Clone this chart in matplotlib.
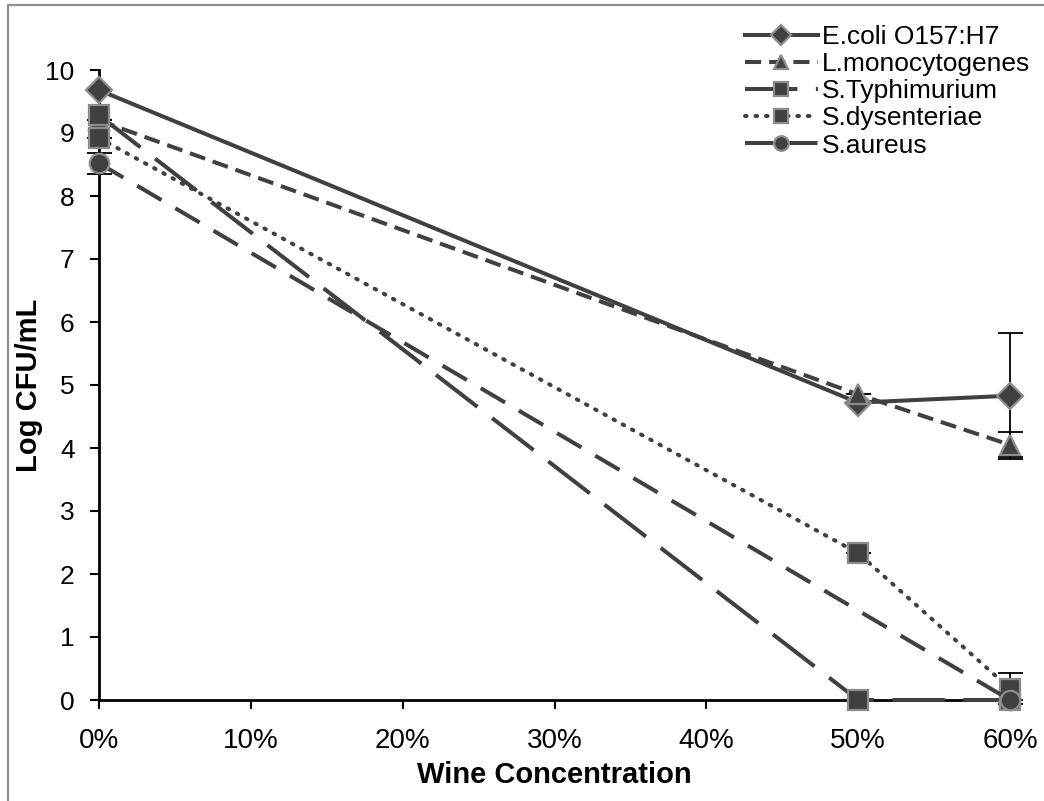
import matplotlib
matplotlib.use("Agg")
import matplotlib.pyplot as plt
from matplotlib.lines import Line2D

plt.rcParams['font.family'] = ['Liberation Sans', 'DejaVu Sans']

x_pct = [0, 50, 60]
ecoli = [9.68, 4.72, 4.83]
ecoli_err = [0.0, 0.0, 1.0]
lmono = [9.2, 4.85, 4.05]
lmono_err = [0.0, 0.0, 0.2]
styph = [9.28, 0.0, 0.0]
sdys = [8.92, 2.33, 0.18]
sdys_err = [0.0, 0.0, 0.25]
saureus_x = [0, 60]
saureus = [8.52, 0.0]
saureus_err = [0.17, 0.0]

xticks = [0, 10, 20, 30, 40, 50, 60]
xticklabels = ['0%', '10%', '20%', '30%', '40%', '50%', '60%']
yticks = list(range(0, 11))

dark = '#404040'
edge = '#8c8c8c'
lw = 2.9

W, H = 1044, 801
fig = plt.figure(figsize=(10.44, 8.01), dpi=100)
ax = fig.add_axes([99 / W, 1 - 700 / H, (1010 - 99) / W, (700 - 70) / H])

# outer border (left and top only visible)
fig.add_artist(Line2D([8 / W, 8 / W, 1.0], [0.0, 1 - 5 / H, 1 - 5 / H],
                      transform=fig.transFigure, color='#8f8f8f', lw=1.6))

ms = 14
common = dict(color=dark, mfc=dark, mec=edge, mew=1.6, lw=lw, clip_on=False)
h_e, = ax.plot(x_pct, ecoli, linestyle='-', marker='D', ms=13, label='E.coli O157:H7', zorder=3, **common)
h_l, = ax.plot(x_pct, lmono, linestyle=(0, (4, 2)), marker='^', ms=ms, label='L.monocytogenes', zorder=4, **common)
h_t, = ax.plot(x_pct, styph, linestyle=(0, (13, 4.6)), marker='s', ms=ms, label='S.Typhimurium', zorder=5, **common)
h_d, = ax.plot(x_pct, sdys, linestyle=(0, (0.4, 2.2)), marker='s', ms=ms, label='S.dysenteriae', zorder=6,
               dash_capstyle='round', **common)
h_a, = ax.plot(saureus_x, saureus, linestyle=(0, (7, 4)), marker='o', ms=ms, label='S.aureus', zorder=7, **common)

eb = dict(fmt='none', ecolor='black', elinewidth=1.3, capsize=9, capthick=1.3, zorder=2, clip_on=False)
ax.errorbar(x_pct, ecoli, yerr=ecoli_err, **eb)
ax.errorbar(x_pct, lmono, yerr=lmono_err, **eb)
ax.errorbar(x_pct, sdys, yerr=sdys_err, **eb)
ax.errorbar(saureus_x, saureus, yerr=saureus_err, **eb)

ax.set_xlim(0, 60)
ax.set_ylim(0, 10)
ax.set_xticks(xticks)
ax.set_xticklabels(xticklabels)
ax.set_yticks(yticks)
ax.tick_params(axis='both', direction='out', length=6.5, width=1.5, colors='black')
ax.tick_params(axis='x', labelsize=20, pad=14)
ax.tick_params(axis='y', labelsize=19, pad=11)
for s in ['top', 'right']:
    ax.spines[s].set_visible(False)
for s in ['left', 'bottom']:
    ax.spines[s].set_linewidth(2)
ax.set_xlabel('Wine Concentration', fontsize=21, fontweight='bold', labelpad=5)
ax.set_ylabel('Log CFU/mL', fontsize=21, fontweight='bold', labelpad=2)

handles = [h_e, h_l, h_t, h_d, h_a]
leg = fig.legend(handles, [h.get_label() for h in handles],
                 loc='upper left', bbox_to_anchor=(745 / W, 1 - 25 / H), frameon=False,
                 fontsize=19, handlelength=2.75, handletextpad=0.15, labelspacing=0.12,
                 borderaxespad=0, borderpad=0, markerscale=0.75)

fig.savefig('out.png', dpi=100, facecolor='white')
